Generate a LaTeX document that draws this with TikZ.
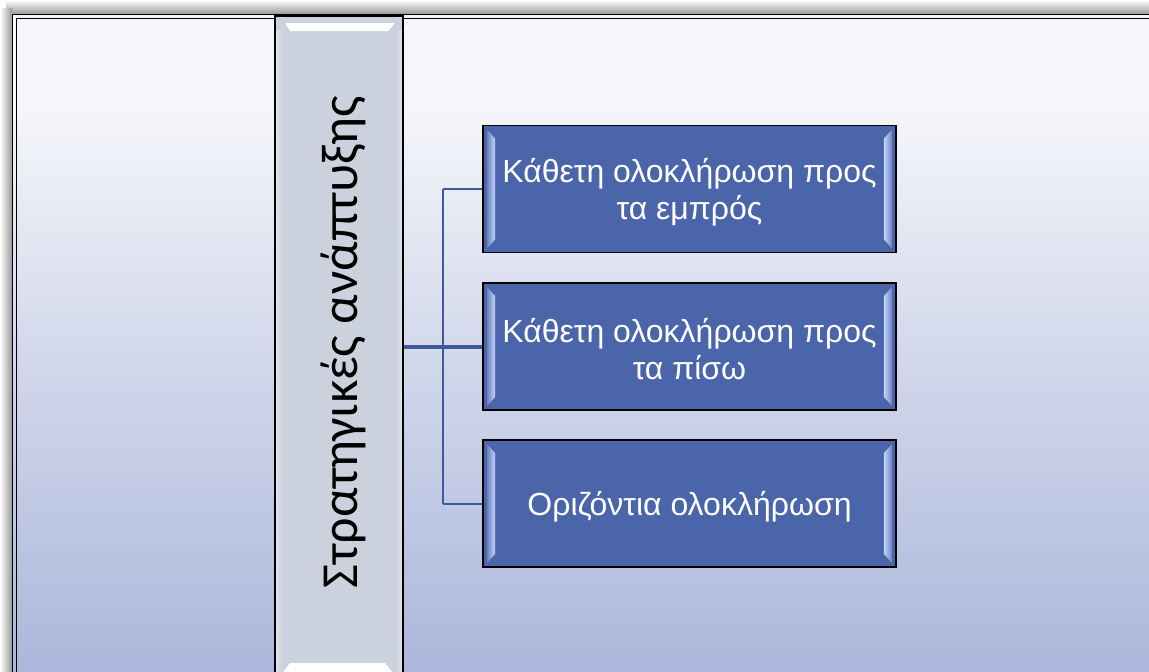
\documentclass[tikz,border=0pt]{standalone}
\usepackage{fontspec}
\setmainfont{Liberation Sans}
\newfontfamily\barfont{Carlito}
\definecolor{boxblue}{HTML}{4A65A9}
\definecolor{barfill}{HTML}{CBD2DE}
\definecolor{bgtop}{HTML}{F5F6FA}
\definecolor{bgbot}{HTML}{A9B5DA}
\definecolor{connc}{HTML}{3F5A9B}
\definecolor{bevlight}{HTML}{C4D6FF}
\tikzset{
  boxnode/.style={draw=black, line width=1.6pt, fill=boxblue, minimum width=413pt, minimum height=127pt,
    inner sep=0pt, text=white, align=center, font=\fontsize{32}{37}\selectfont},
  barnode/.style={draw=black, line width=1.4pt, fill=barfill, minimum width=128pt, minimum height=662pt, inner sep=0pt},
  conn/.style={draw=connc, line width=2pt},
  mainconn/.style={draw=connc, line width=3.2pt},
}
\begin{document}
\begin{tikzpicture}[x=1pt,y=-1pt]
\useasboundingbox (0,0) rectangle (1149,672);
\clip (0,0) rectangle (1149,672);
% shadow
\fill[white] (0,0) rectangle (1149,672);
\shade[top color=white, bottom color=black!40] (6,0) rectangle (1149,14);
\shade[left color=white, right color=black!40] (0,8) rectangle (12,672);
% background
\fill[bgtop] (12,14) rectangle (1160,110);
\shade[top color=bgtop, bottom color=bgtop!55!bgbot] (12,110) rectangle (1160,352);
\shade[top color=bgtop!55!bgbot, bottom color=bgbot] (12,352) rectangle (1160,690);
% frame
\draw[black, line width=1.3pt] (12.7,14.7) rectangle (1165,695);
\draw[black, line width=1.3pt] (16.3,18.3) rectangle (1165,695);
% bar
\node[barnode] (bar) at (339,347) {};
\shade[left color=white!35!barfill, right color=barfill] (276.5,30) rectangle (282,672);
\shade[left color=barfill, right color=white!35!barfill] (396,30) rectangle (401.8,672);
\fill[white] (285,23) -- (395,23) -- (388,31) -- (290,31) -- cycle;
\fill[white] (290,663) -- (385,663) -- (392,672) -- (283,672) -- cycle;
\node[rotate=90, font=\barfont\fontsize{52}{56}\selectfont, text=black] (bartext) at (343,342) {Στρατηγικές ανάπτυξης};
% boxes
\node[boxnode] (b1) at (689.5,189) {};
\node[boxnode] (b2) at (689.5,346.5) {};
\node[boxnode] (b3) at (689.5,503.5) {};
% bevels on boxes
\foreach \b in {b1,b2,b3}{
  \shade[left color=boxblue!80!white, right color=bevlight]
    ([shift={(5,5)}]\b.north west) -- ([shift={(13,14)}]\b.north west) -- ([shift={(13,-14)}]\b.south west) -- ([shift={(5,-5)}]\b.south west) -- cycle;
  \shade[left color=bevlight, right color=boxblue!80!white]
    ([shift={(-5,5)}]\b.north east) -- ([shift={(-13,14)}]\b.north east) -- ([shift={(-13,-14)}]\b.south east) -- ([shift={(-5,-5)}]\b.south east) -- cycle;
}
\node[boxnode, fill=none, draw=none] (t1) at ([shift={(0,3)}]b1.center) {Κάθετη ολοκλήρωση προς\\τα εμπρός};
\node[boxnode, fill=none, draw=none] (t2) at ([shift={(0,3)}]b2.center) {Κάθετη ολοκλήρωση προς\\τα πίσω};
\node[boxnode, fill=none, draw=none] (t3) at ([shift={(0,3)}]b3.center) {Οριζόντια ολοκλήρωση};
% connectors
\coordinate (j) at (443,347);
\draw[mainconn] (bar.east) -- (bar.east -| b2.west);
\draw[conn] (j |- b1.west) -- (j |- b3.west);
\draw[conn] (j |- b1.west) -- (b1.west);
\draw[conn] (j |- b3.west) -- (b3.west);
\end{tikzpicture}
\end{document}
